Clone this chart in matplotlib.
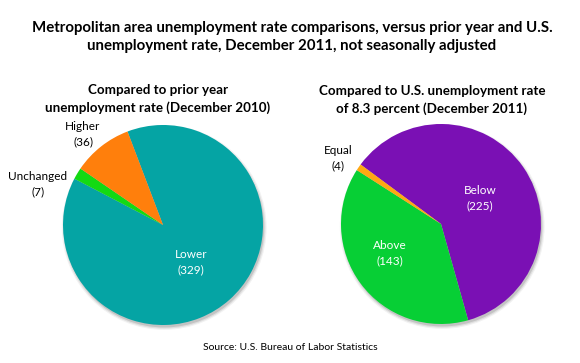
#!/usr/bin/env python3
"""Metropolitan area unemployment rate comparisons, December 2011 - two pies."""

import matplotlib.pyplot as plt
from matplotlib.patches import Circle

W, H = 580, 363

# left pie: compared to prior year
prior_labels = ["Lower", "Unchanged", "Higher"]
prior_values = [329, 7, 36]
prior_colors = ["#05A4A4", "#13DA13", "#FF7F0C"]

# right pie: compared to U.S. rate
us_labels = ["Below", "Above", "Equal"]
us_values = [225, 143, 4]
us_colors = ["#7A10B4", "#07CF35", "#FFA812"]

plt.rcParams["font.family"] = ["Lato", "DejaVu Sans"]

fig = plt.figure(figsize=(W / 100, H / 100), dpi=100)
fig.patch.set_facecolor("white")


def px(x, y):
    return x / W, 1 - y / H


def pie_axes(cx, cy, r):
    ax = fig.add_axes([(cx - r) / W, (H - cy - r) / H, 2 * r / W, 2 * r / H])
    ax.set_aspect("equal")
    ax.axis("off")
    return ax


def draw_pie(ax, values, colors, start):
    # soft shadow under the pie
    for i, a in enumerate([0.05, 0.08, 0.12]):
        ax.add_patch(Circle((0.012, -0.025), 1.0 + 0.012 * (2 - i), color="black",
                            alpha=a, lw=0, zorder=0))
    ax.pie(values, colors=colors, startangle=start, counterclock=False, radius=1.0,
           wedgeprops=dict(linewidth=0, zorder=1))
    ax.set_xlim(-1.05, 1.05)
    ax.set_ylim(-1.05, 1.05)


ax1 = pie_axes(163, 225, 105)
draw_pie(ax1, prior_values, prior_colors, 110.8)

ax2 = pie_axes(441, 224, 105)
draw_pie(ax2, us_values, us_colors, 143.5)

fig.text(*px(292, 37), "Metropolitan area unemployment rate comparisons, versus prior year and U.S.\n"
         "unemployment rate, December 2011, not seasonally adjusted",
         ha="center", va="center", fontsize=10.8, fontweight="bold", linespacing=1.45)

fig.text(*px(158, 99), "Compared to prior year\nunemployment rate (December 2010)",
         ha="center", va="center", fontsize=9.6, fontweight="bold", linespacing=1.45)
fig.text(*px(432, 100), "Compared to U.S. unemployment rate\nof 8.3 percent (December 2011)",
         ha="center", va="center", fontsize=9.6, fontweight="bold", linespacing=1.45)

label_pos = {
    "Lower": (191, 262, "white"),
    "Unchanged": (38, 184, "black"),
    "Higher": (83, 134, "black"),
    "Below": (480, 198, "white"),
    "Above": (390, 253, "white"),
    "Equal": (338, 158, "black"),
}
for labels, values in [(prior_labels, prior_values), (us_labels, us_values)]:
    for lab, val in zip(labels, values):
        x, y, c = label_pos[lab]
        fig.text(*px(x, y), f"{lab}\n({val})", ha="center", va="center",
                 fontsize=8.5, color=c, linespacing=1.5)

fig.text(*px(290, 348), "Source: U.S. Bureau of Labor Statistics", ha="center", va="center",
         fontsize=7.5)

fig.savefig("out.png", dpi=100)
